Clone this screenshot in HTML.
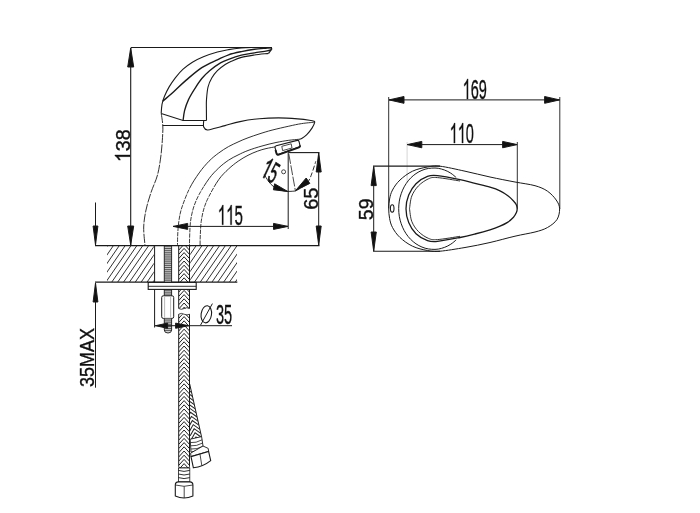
<!DOCTYPE html>
<html><head><meta charset="utf-8"><title>Faucet dimensions</title>
<style>
html,body{margin:0;padding:0;background:#fff;}
body{width:700px;height:513px;overflow:hidden;font-family:"Liberation Sans",sans-serif;}
svg{display:block;filter:grayscale(1);}
svg path, svg line, svg polygon, svg rect, svg ellipse, svg circle{stroke:#1a1a1a;}
svg path{fill:none;}
svg text{font-family:"Liberation Sans",sans-serif;fill:#111;stroke:#111;stroke-width:0.35px;}
</style></head><body>
<svg width="700" height="513" viewBox="0 0 700 513">
<defs>
<clipPath id="hL"><rect x="107" y="246" width="46.8" height="36"/></clipPath>
<clipPath id="hR"><rect x="190.2" y="246" width="46.8" height="36"/></clipPath>
<pattern id="thr" width="8" height="2" patternUnits="userSpaceOnUse"><rect width="8" height="2" style="fill:#c4c4c4;stroke:none"/><path d="M0,1 H8" stroke-width="1" style="stroke:#4a4a4a"/></pattern>
<pattern id="braid" width="10.8" height="4.6" patternUnits="userSpaceOnUse" x="178.7" y="246"><rect width="10.8" height="4.6" style="fill:#fff;stroke:none"/><path d="M0,0.00 L5.4,-6.00 L10.8,0.00 M0,4.60 L5.4,-1.40 L10.8,4.60 M0,9.20 L5.4,3.20 L10.8,9.20 M0,13.80 L5.4,7.80 L10.8,13.80" stroke-width="0.9" style="stroke:#333"/></pattern>
<clipPath id="hs1"><rect x="178.7" y="246" width="10.8" height="62.5"/></clipPath>
<clipPath id="hs2"><rect x="178.7" y="314.2" width="10.8" height="153.8"/></clipPath>
<clipPath id="hs3"><polygon points="190,386 201.6,437 190,439.6"/></clipPath>
<clipPath id="up"><rect x="150" y="100" width="200" height="86"/></clipPath>
<clipPath id="lo"><rect x="150" y="186" width="200" height="70"/></clipPath>
</defs>
<rect width="700" height="513" fill="#fff" stroke="none" style="stroke:none"/>
<path d="M130.7,47.5 H272" stroke-width="1.1" />
<path d="M130.7,48 V245" stroke-width="1.1" />
<polygon points="130.7,48.0 133.7,67.0 127.7,67.0" fill="#111" stroke="none"/>
<polygon points="130.7,245.0 127.7,226.0 133.7,226.0" fill="#111" stroke="none"/>
<g transform="translate(122.5,145.8) rotate(-90) skewX(0) scale(0.94,1)" font-size="21" ><path transform="translate(-17.51,7.52) scale(0.01025)" d="M763 0 H583 V-1147 Q518 -1085 412.5 -1023 Q307 -961 223 -930 V-1104 Q374 -1175 487 -1276 Q600 -1377 647 -1472 H763 Z" style="fill:#111;stroke:#111;stroke-width:34.1"/><text x="-5.84" y="7.5" style="stroke-width:0.35">3</text><text x="5.84" y="7.5" style="stroke-width:0.35">8</text></g>
<path d="M161.2,113.6 C161.3,112.0 161.5,107.1 162.0,104.3 C162.5,101.5 163.2,99.4 164.4,96.5 C165.6,93.6 167.2,90.2 169.0,87.1 C170.8,84.0 173.0,80.8 175.3,77.8 C177.7,74.8 180.2,71.8 183.1,69.2 C185.9,66.6 189.0,64.3 192.4,62.2 C195.8,60.1 199.2,58.4 203.4,56.7 C207.6,55.0 213.2,53.2 217.4,52.0 C221.6,50.8 224.6,50.3 228.6,49.6 C232.6,48.9 237.1,48.4 241.4,48.0 C245.7,47.6 249.4,47.6 254.3,47.5 C259.2,47.4 268.2,47.6 271.0,47.6" stroke-width="1.1" />
<path d="M271,47.6 L271.8,49 L268.6,53.4" stroke-width="1.2" />
<path d="M268.6,53.4 C266.2,53.7 258.8,54.3 254.3,55.0 C249.8,55.7 245.1,56.4 241.4,57.4 C237.7,58.4 234.7,59.8 232.0,61.0 C229.3,62.2 227.6,62.9 225.2,64.5 C222.8,66.1 219.6,68.5 217.4,70.7 C215.2,72.9 213.5,75.1 211.9,77.8 C210.3,80.5 208.9,83.5 208.0,87.1 C207.1,90.7 206.8,95.8 206.5,99.6 C206.2,103.4 206.4,106.5 206.4,110.0 C206.4,113.5 206.5,118.8 206.5,120.5" stroke-width="1.1" />
<path d="M206.5,120.5 H183.1 L161.2,113.6" stroke-width="1.1" />
<path d="M162.8,101.2 C164.6,99.6 169.8,95.3 173.7,91.8 C177.6,88.3 181.5,84.1 186.2,80.1 C190.9,76.1 196.6,71.0 201.8,67.6 C207.0,64.2 212.9,61.9 217.4,59.8 C221.9,57.7 224.6,56.2 228.6,54.8 C232.6,53.4 237.1,52.5 241.4,51.6 C245.7,50.7 250.0,49.9 254.3,49.3 C258.6,48.7 264.3,48.3 267.1,48.0 C269.9,47.7 270.4,47.8 271.0,47.7" stroke-width="1.4" />
<path d="M183.1,120.5 C183.3,118.8 183.7,114.0 184.6,110.5 C185.5,107.0 186.8,103.2 188.5,99.6 C190.2,96.0 192.6,92.2 194.8,88.7 C197.0,85.2 199.3,81.5 201.8,78.5 C204.3,75.5 206.5,73.3 209.6,70.7 C212.7,68.1 217.3,64.8 220.5,62.9 C223.7,61.0 225.1,60.6 228.6,59.3 C232.1,58.0 237.1,56.3 241.4,55.2 C245.7,54.1 250.0,53.6 254.3,52.9 C258.6,52.2 264.3,51.4 267.1,50.9 C269.9,50.4 270.6,49.8 271.3,49.6" stroke-width="1.3" />
<path d="M162.5,125.5 H203.7" stroke-width="1.2" />
<path d="M161.3,114.0 C161.6,115.9 162.6,121.6 162.8,125.5 C163.0,129.4 162.8,132.6 162.5,137.5 C162.2,142.4 161.8,148.8 161.0,155.0 C160.2,161.2 159.2,168.8 157.5,175.0 C155.8,181.2 152.9,186.7 151.0,192.5 C149.1,198.3 147.2,204.2 146.0,210.0 C144.8,215.8 143.9,221.1 143.7,227.0 C143.5,232.9 144.8,242.4 145.0,245.5" stroke-width="0.9" stroke-dasharray="9 1.2"/>
<path d="M203.7,120.8 C203.7,121.8 203.1,125.5 203.7,127.0 C204.3,128.5 205.6,129.8 207.5,130.0 C209.4,130.2 212.1,129.0 215.0,128.3 C217.9,127.6 220.8,126.7 225.0,125.6 C229.2,124.5 234.3,122.8 240.0,121.6 C245.7,120.4 252.9,119.3 259.3,118.7 C265.7,118.1 272.2,117.9 278.6,117.9 C285.0,117.9 292.7,118.5 297.8,118.9 C302.9,119.3 306.7,119.8 309.4,120.2 C312.1,120.6 313.1,120.8 314.0,121.2 C314.9,121.6 314.9,121.4 314.6,122.6 C314.3,123.8 313.3,126.1 312.0,128.1 C310.7,130.1 308.5,132.9 306.8,134.6 C305.1,136.3 303.1,137.6 301.7,138.4 C300.3,139.2 299.0,139.3 298.5,139.5" stroke-width="1.1" />
<g clip-path="url(#up)"><path d="M313.8,122.3 C311.8,122.5 305.9,122.9 301.7,123.6 C297.5,124.2 293.7,125.1 288.8,126.2 C283.9,127.3 277.1,128.8 272.1,130.1 C267.1,131.4 263.0,132.7 259.0,134.0 C255.0,135.3 251.5,136.5 248.0,137.8 C244.5,139.1 241.2,140.5 238.0,142.0 C234.8,143.5 231.7,144.8 228.5,146.6 C225.3,148.4 221.9,150.6 218.7,153.0 C215.4,155.4 212.2,157.9 209.0,161.2 C205.8,164.5 202.4,168.3 199.2,172.9 C195.9,177.5 192.4,182.7 189.5,188.5 C186.6,194.3 183.5,202.5 181.7,208.0 C179.9,213.5 179.5,217.1 178.8,221.6 C178.1,226.1 177.9,231.0 177.7,235.0 C177.5,239.0 177.5,243.8 177.5,245.5" stroke-width="0.9" /></g>
<g clip-path="url(#lo)"><path d="M313.8,122.3 C311.8,122.5 305.9,122.9 301.7,123.6 C297.5,124.2 293.7,125.1 288.8,126.2 C283.9,127.3 277.1,128.8 272.1,130.1 C267.1,131.4 263.0,132.7 259.0,134.0 C255.0,135.3 251.5,136.5 248.0,137.8 C244.5,139.1 241.2,140.5 238.0,142.0 C234.8,143.5 231.7,144.8 228.5,146.6 C225.3,148.4 221.9,150.6 218.7,153.0 C215.4,155.4 212.2,157.9 209.0,161.2 C205.8,164.5 202.4,168.3 199.2,172.9 C195.9,177.5 192.4,182.7 189.5,188.5 C186.6,194.3 183.5,202.5 181.7,208.0 C179.9,213.5 179.5,217.1 178.8,221.6 C178.1,226.1 177.9,231.0 177.7,235.0 C177.5,239.0 177.5,243.8 177.5,245.5" stroke-width="0.85" stroke-dasharray="4.5 1"/></g>
<g clip-path="url(#up)"><path d="M298.5,139.3 C296.9,139.5 292.6,139.8 288.8,140.3 C285.1,140.8 280.5,141.6 276.0,142.5 C271.5,143.4 266.7,144.7 262.0,146.0 C257.3,147.3 252.0,149.0 248.0,150.5 C244.0,152.0 241.2,153.4 238.0,155.0 C234.8,156.6 231.7,158.0 228.5,160.2 C225.3,162.4 221.9,164.9 218.7,168.0 C215.4,171.1 212.2,174.3 209.0,178.7 C205.8,183.1 201.8,189.4 199.2,194.3 C196.6,199.2 194.8,203.4 193.4,208.0 C192.0,212.6 191.1,217.1 190.5,221.6 C189.9,226.1 189.9,231.0 189.7,235.0 C189.5,239.0 189.5,243.8 189.5,245.5" stroke-width="0.9" /></g>
<g clip-path="url(#lo)"><path d="M298.5,139.3 C296.9,139.5 292.6,139.8 288.8,140.3 C285.1,140.8 280.5,141.6 276.0,142.5 C271.5,143.4 266.7,144.7 262.0,146.0 C257.3,147.3 252.0,149.0 248.0,150.5 C244.0,152.0 241.2,153.4 238.0,155.0 C234.8,156.6 231.7,158.0 228.5,160.2 C225.3,162.4 221.9,164.9 218.7,168.0 C215.4,171.1 212.2,174.3 209.0,178.7 C205.8,183.1 201.8,189.4 199.2,194.3 C196.6,199.2 194.8,203.4 193.4,208.0 C192.0,212.6 191.1,217.1 190.5,221.6 C189.9,226.1 189.9,231.0 189.7,235.0 C189.5,239.0 189.5,243.8 189.5,245.5" stroke-width="0.85" stroke-dasharray="4.5 1"/></g>
<g clip-path="url(#up)"><path d="M275.5,146.8 C273.9,147.1 269.0,147.9 266.0,148.6 C263.0,149.3 260.7,150.0 257.7,151.1 C254.7,152.2 251.2,153.6 248.0,155.3 C244.8,157.0 241.4,158.9 238.2,161.2 C234.9,163.5 231.8,165.9 228.5,169.0 C225.2,172.1 221.9,175.1 218.7,179.7 C215.4,184.2 211.4,191.6 209.0,196.3 C206.6,201.0 205.4,203.8 204.1,208.0 C202.8,212.2 201.8,217.1 201.2,221.6 C200.6,226.1 200.5,231.0 200.3,235.0 C200.1,239.0 200.1,243.8 200.1,245.5" stroke-width="0.9" /></g>
<g clip-path="url(#lo)"><path d="M275.5,146.8 C273.9,147.1 269.0,147.9 266.0,148.6 C263.0,149.3 260.7,150.0 257.7,151.1 C254.7,152.2 251.2,153.6 248.0,155.3 C244.8,157.0 241.4,158.9 238.2,161.2 C234.9,163.5 231.8,165.9 228.5,169.0 C225.2,172.1 221.9,175.1 218.7,179.7 C215.4,184.2 211.4,191.6 209.0,196.3 C206.6,201.0 205.4,203.8 204.1,208.0 C202.8,212.2 201.8,217.1 201.2,221.6 C200.6,226.1 200.5,231.0 200.3,235.0 C200.1,239.0 200.1,243.8 200.1,245.5" stroke-width="0.85" stroke-dasharray="4.5 1"/></g>
<path d="M276.2,145.8 L297.2,140.4 Q298.6,140.1 299,141.4 L299.9,145 Q300.2,146.4 298.9,146.9 L278.6,154.2 Q277,154.7 276.6,153.2 L275,147.6 Q274.7,146.2 276.2,145.8 Z" style="fill:#fff" stroke-width="1.1"/>
<path d="M275.5,150 L276.5,153.4 Q277,155.2 278.8,154.6 L299,147.3 Q300.4,146.7 300.1,145.4" stroke-width="1.9" />
<polygon points="281.8,146.3 291.2,143.8 292,148 282.6,150.6" fill="none" stroke-width="0.8"/>
<path d="M288.2,152.6 H319.5" stroke-width="1.1" />
<path d="M288.2,152.6 V229" stroke-width="1.0" />
<path d="M318.7,152.6 V245.5" stroke-width="1.0" />
<polygon points="318.7,153.0 321.2,172.0 316.2,172.0" fill="#111" stroke="none"/>
<polygon points="318.7,245.0 316.2,226.0 321.2,226.0" fill="#111" stroke="none"/>
<g transform="translate(310.5,198.7) rotate(-90) skewX(0) scale(0.95,1)" font-size="21" ><text text-anchor="middle" y="7.5" style="stroke-width:0.35">65</text></g>
<path d="M173,226.4 H288" stroke-width="1.0" />
<polygon points="173.2,226.4 187.7,223.4 187.7,229.4" fill="#111" stroke="none"/>
<polygon points="288.0,226.4 273.5,229.4 273.5,223.4" fill="#111" stroke="none"/>
<g transform="translate(230.3,215.0) rotate(0) skewX(0) scale(0.55,1)" font-size="27.5" ><path transform="translate(-22.94,9.84) scale(0.01343)" d="M763 0 H583 V-1147 Q518 -1085 412.5 -1023 Q307 -961 223 -930 V-1104 Q374 -1175 487 -1276 Q600 -1377 647 -1472 H763 Z" style="fill:#111;stroke:#111;stroke-width:26.1"/><path transform="translate(-7.65,9.84) scale(0.01343)" d="M763 0 H583 V-1147 Q518 -1085 412.5 -1023 Q307 -961 223 -930 V-1104 Q374 -1175 487 -1276 Q600 -1377 647 -1472 H763 Z" style="fill:#111;stroke:#111;stroke-width:26.1"/><text x="7.65" y="9.8" style="stroke-width:0.35">5</text></g>
<path d="M288.8,154 L295.4,190.8" stroke-width="0.8" stroke-dasharray="10 1.5"/>
<path d="M264.2,174.5 C264.9,175.6 266.9,179.2 268.5,181.3 C270.1,183.4 271.9,185.5 274.0,187.0 C276.1,188.5 278.7,189.6 281.0,190.3 C283.3,191.0 285.6,191.3 288.0,191.4 C290.4,191.5 294.2,191.1 295.4,191.0" stroke-width="0.9" />
<path d="M295.4,191.0 C296.7,190.2 300.8,188.2 303.0,186.5 C305.2,184.8 307.3,182.8 308.8,180.6 C310.3,178.3 310.8,176.2 312.0,173.0 C313.2,169.8 315.2,163.2 315.8,161.3" stroke-width="0.9" stroke-dasharray="5 2"/>
<polygon points="287.6,191.4 273.4,189.8 274.6,183.8" fill="#111" stroke="none"/>
<polygon points="295.6,190.6 306.2,178 309.8,183.4" fill="#111" stroke="none"/>
<circle cx="283.6" cy="171.8" r="2" fill="none" stroke-width="0.8"/>
<g transform="translate(270.8,170.2) rotate(33) skewX(8) scale(0.5,1)" font-size="29" ><path transform="translate(-16.12,10.38) scale(0.01416)" d="M763 0 H583 V-1147 Q518 -1085 412.5 -1023 Q307 -961 223 -930 V-1104 Q374 -1175 487 -1276 Q600 -1377 647 -1472 H763 Z" style="fill:#111;stroke:#111;stroke-width:42.4"/><text x="0.00" y="10.4" style="stroke-width:0.6">5</text></g>
<path d="M95,245.7 H319.5" stroke-width="1.2" />
<path d="M95,282.1 H237.3" stroke-width="1.2" />
<g clip-path="url(#hL)" stroke-width="0.9">
<line x1="101.6" y1="245.6" x2="76.4" y2="282.2"/>
<line x1="107.5" y1="245.6" x2="82.3" y2="282.2"/>
<line x1="113.4" y1="245.6" x2="88.2" y2="282.2"/>
<line x1="119.3" y1="245.6" x2="94.1" y2="282.2"/>
<line x1="125.2" y1="245.6" x2="100.0" y2="282.2"/>
<line x1="131.0" y1="245.6" x2="105.8" y2="282.2"/>
<line x1="136.9" y1="245.6" x2="111.7" y2="282.2"/>
<line x1="142.8" y1="245.6" x2="117.6" y2="282.2"/>
<line x1="148.7" y1="245.6" x2="123.5" y2="282.2"/>
<line x1="154.6" y1="245.6" x2="129.4" y2="282.2"/>
<line x1="160.4" y1="245.6" x2="135.2" y2="282.2"/>
<line x1="166.3" y1="245.6" x2="141.1" y2="282.2"/>
<line x1="172.2" y1="245.6" x2="147.0" y2="282.2"/>
<line x1="178.1" y1="245.6" x2="152.9" y2="282.2"/>
<line x1="184.0" y1="245.6" x2="158.8" y2="282.2"/>
<line x1="189.8" y1="245.6" x2="164.6" y2="282.2"/>
</g>
<g clip-path="url(#hR)" stroke-width="0.9">
<line x1="184.5" y1="245.6" x2="159.3" y2="282.2"/>
<line x1="190.4" y1="245.6" x2="165.2" y2="282.2"/>
<line x1="196.2" y1="245.6" x2="171.0" y2="282.2"/>
<line x1="202.0" y1="245.6" x2="176.8" y2="282.2"/>
<line x1="207.9" y1="245.6" x2="182.7" y2="282.2"/>
<line x1="213.7" y1="245.6" x2="188.5" y2="282.2"/>
<line x1="219.6" y1="245.6" x2="194.4" y2="282.2"/>
<line x1="225.4" y1="245.6" x2="200.2" y2="282.2"/>
<line x1="231.2" y1="245.6" x2="206.0" y2="282.2"/>
<line x1="237.1" y1="245.6" x2="211.9" y2="282.2"/>
<line x1="242.9" y1="245.6" x2="217.7" y2="282.2"/>
<line x1="248.8" y1="245.6" x2="223.6" y2="282.2"/>
<line x1="254.6" y1="245.6" x2="229.4" y2="282.2"/>
<line x1="260.4" y1="245.6" x2="235.2" y2="282.2"/>
<line x1="266.3" y1="245.6" x2="241.1" y2="282.2"/>
<line x1="272.1" y1="245.6" x2="246.9" y2="282.2"/>
</g>
<path d="M154.6,245.6 V327.5" stroke-width="1.0" />
<path d="M95.5,202.5 V244" stroke-width="1.0" />
<polygon points="95.5,245.0 93.1,226.0 97.9,226.0" fill="#111" stroke="none"/>
<path d="M95.5,284 V387.7" stroke-width="1.0" />
<polygon points="95.5,283.0 97.9,302.0 93.1,302.0" fill="#111" stroke="none"/>
<g transform="translate(87.3,357.5) rotate(-90) skewX(0) scale(0.92,1)" font-size="19.5" ><text text-anchor="middle" y="7.0" style="stroke-width:0.35">35MAX</text></g>
<rect x="164.3" y="246" width="7.3" height="50" style="fill:#cfcfcf;stroke:none"/>
<path d="M164.3,246.60 H171.6 M164.3,248.50 H171.6 M164.3,250.40 H171.6 M164.3,252.30 H171.6 M164.3,254.20 H171.6 M164.3,256.10 H171.6 M164.3,258.00 H171.6 M164.3,259.90 H171.6 M164.3,261.80 H171.6 M164.3,263.70 H171.6 M164.3,265.60 H171.6 M164.3,267.50 H171.6 M164.3,269.40 H171.6 M164.3,271.30 H171.6 M164.3,273.20 H171.6 M164.3,275.10 H171.6 M164.3,277.00 H171.6 M164.3,278.90 H171.6 M164.3,280.80 H171.6 M164.3,282.70 H171.6 M164.3,284.60 H171.6 M164.3,286.50 H171.6 M164.3,288.40 H171.6 M164.3,290.30 H171.6 M164.3,292.20 H171.6 M164.3,294.10 H171.6 M164.3,296.00 H171.6 " stroke-width="0.9" style="stroke:#4a4a4a"/>
<path d="M164.3,246 V296 M171.6,246 V296" stroke-width="0.9" />
<rect x="161.7" y="295.8" width="12" height="22.6" rx="1.6" style="fill:#fff" stroke-width="1"/>
<path d="M164.6,297 V317.5 M170.6,297 V317.5" stroke-width="0.6" style="stroke:#888"/>
<path d="M164.3,318.4 V330 Q164.3,333 168,333 Q171.6,333 171.6,330 V318.4 Z" style="fill:#cfcfcf;stroke:none"/>
<path d="M164.3,319.00 H171.6 M164.3,320.90 H171.6 M164.3,322.80 H171.6 M164.3,324.70 H171.6 M164.3,326.60 H171.6 M164.3,328.50 H171.6 M164.3,330.40 H171.6 " stroke-width="0.9" style="stroke:#4a4a4a"/>
<path d="M164.3,318.4 V330 Q164.3,333 168,333 Q171.6,333 171.6,330 V318.4" stroke-width="0.9" />
<g clip-path="url(#hs1)"><path d="M178.7,241.80 L184.1,235.80 L189.5,241.80 M178.7,246.00 L184.1,240.00 L189.5,246.00 M178.7,250.20 L184.1,244.20 L189.5,250.20 M178.7,254.40 L184.1,248.40 L189.5,254.40 M178.7,258.60 L184.1,252.60 L189.5,258.60 M178.7,262.80 L184.1,256.80 L189.5,262.80 M178.7,267.00 L184.1,261.00 L189.5,267.00 M178.7,271.20 L184.1,265.20 L189.5,271.20 M178.7,275.40 L184.1,269.40 L189.5,275.40 M178.7,279.60 L184.1,273.60 L189.5,279.60 M178.7,283.80 L184.1,277.80 L189.5,283.80 M178.7,288.00 L184.1,282.00 L189.5,288.00 M178.7,292.20 L184.1,286.20 L189.5,292.20 M178.7,296.40 L184.1,290.40 L189.5,296.40 M178.7,300.60 L184.1,294.60 L189.5,300.60 M178.7,304.80 L184.1,298.80 L189.5,304.80 M178.7,309.00 L184.1,303.00 L189.5,309.00 M178.7,313.20 L184.1,307.20 L189.5,313.20 M178.7,317.40 L184.1,311.40 L189.5,317.40 " stroke-width="1.0" style="stroke:#222"/></g>
<g clip-path="url(#hs2)"><path d="M178.7,310.00 L184.1,304.00 L189.5,310.00 M178.7,314.20 L184.1,308.20 L189.5,314.20 M178.7,318.40 L184.1,312.40 L189.5,318.40 M178.7,322.60 L184.1,316.60 L189.5,322.60 M178.7,326.80 L184.1,320.80 L189.5,326.80 M178.7,331.00 L184.1,325.00 L189.5,331.00 M178.7,335.20 L184.1,329.20 L189.5,335.20 M178.7,339.40 L184.1,333.40 L189.5,339.40 M178.7,343.60 L184.1,337.60 L189.5,343.60 M178.7,347.80 L184.1,341.80 L189.5,347.80 M178.7,352.00 L184.1,346.00 L189.5,352.00 M178.7,356.20 L184.1,350.20 L189.5,356.20 M178.7,360.40 L184.1,354.40 L189.5,360.40 M178.7,364.60 L184.1,358.60 L189.5,364.60 M178.7,368.80 L184.1,362.80 L189.5,368.80 M178.7,373.00 L184.1,367.00 L189.5,373.00 M178.7,377.20 L184.1,371.20 L189.5,377.20 M178.7,381.40 L184.1,375.40 L189.5,381.40 M178.7,385.60 L184.1,379.60 L189.5,385.60 M178.7,389.80 L184.1,383.80 L189.5,389.80 M178.7,394.00 L184.1,388.00 L189.5,394.00 M178.7,398.20 L184.1,392.20 L189.5,398.20 M178.7,402.40 L184.1,396.40 L189.5,402.40 M178.7,406.60 L184.1,400.60 L189.5,406.60 M178.7,410.80 L184.1,404.80 L189.5,410.80 M178.7,415.00 L184.1,409.00 L189.5,415.00 M178.7,419.20 L184.1,413.20 L189.5,419.20 M178.7,423.40 L184.1,417.40 L189.5,423.40 M178.7,427.60 L184.1,421.60 L189.5,427.60 M178.7,431.80 L184.1,425.80 L189.5,431.80 M178.7,436.00 L184.1,430.00 L189.5,436.00 M178.7,440.20 L184.1,434.20 L189.5,440.20 M178.7,444.40 L184.1,438.40 L189.5,444.40 M178.7,448.60 L184.1,442.60 L189.5,448.60 M178.7,452.80 L184.1,446.80 L189.5,452.80 M178.7,457.00 L184.1,451.00 L189.5,457.00 M178.7,461.20 L184.1,455.20 L189.5,461.20 M178.7,465.40 L184.1,459.40 L189.5,465.40 M178.7,469.60 L184.1,463.60 L189.5,469.60 M178.7,473.80 L184.1,467.80 L189.5,473.80 M178.7,478.00 L184.1,472.00 L189.5,478.00 " stroke-width="1.0" style="stroke:#222"/></g>
<path d="M178.7,246 V308.5 M189.5,246 V308.5" stroke-width="1.0" />
<path d="M178.7,314.2 V466.5 Q178.7,468 180.2,468 H188 Q189.5,468 189.5,466.5 V314.2" stroke-width="1.0" />
<path d="M178.7,308.5 q2.7,1.6 5.4,0 q2.7,-1.6 5.4,0 M178.7,314.2 q2.7,-1.6 5.4,0 q2.7,1.6 5.4,0" stroke-width="0.8" />
<rect x="148.2" y="282.4" width="48" height="7" style="fill:#fff" stroke-width="1.1"/>
<path d="M148.2,286.3 H196.2" stroke-width="0.9" />
<g clip-path="url(#hs3)"><g transform="rotate(-12.6 189.7 384)"><path d="M178.9,375.80 L184.3,369.80 L189.7,375.80 M178.9,380.00 L184.3,374.00 L189.7,380.00 M178.9,384.20 L184.3,378.20 L189.7,384.20 M178.9,388.40 L184.3,382.40 L189.7,388.40 M178.9,392.60 L184.3,386.60 L189.7,392.60 M178.9,396.80 L184.3,390.80 L189.7,396.80 M178.9,401.00 L184.3,395.00 L189.7,401.00 M178.9,405.20 L184.3,399.20 L189.7,405.20 M178.9,409.40 L184.3,403.40 L189.7,409.40 M178.9,413.60 L184.3,407.60 L189.7,413.60 M178.9,417.80 L184.3,411.80 L189.7,417.80 M178.9,422.00 L184.3,416.00 L189.7,422.00 M178.9,426.20 L184.3,420.20 L189.7,426.20 M178.9,430.40 L184.3,424.40 L189.7,430.40 M178.9,434.60 L184.3,428.60 L189.7,434.60 M178.9,438.80 L184.3,432.80 L189.7,438.80 M178.9,443.00 L184.3,437.00 L189.7,443.00 M178.9,447.20 L184.3,441.20 L189.7,447.20 M178.9,451.40 L184.3,445.40 L189.7,451.40 " stroke-width="1.0" style="stroke:#222"/></g></g>
<path d="M189.7,384 L201.6,437" stroke-width="1.0" />
<path d="M190.2,439.2 L201.6,436.6 L203.4,448.6 L191,452.2 Z" style="fill:#fff" stroke-width="0.9"/>
<path d="M190.4,442.6 Q196,443.2 202.1,439.8 M190.7,445.8 Q196.5,446.4 202.6,443 M190.9,449 Q197,449.6 203,446.2" stroke-width="0.8" />
<path d="M203,446 L208.2,448.4 L208.6,451.4 L191,456.6 L190.6,453.2 Z" style="fill:#fff" stroke-width="0.9"/>
<path d="M191,456.6 L208.6,451.4 L210.7,460.6 Q203,466.8 193.4,467.8 Z" style="fill:#fff" stroke-width="1.1"/>
<path d="M200,454.2 L201.8,465.6" stroke-width="0.8" />
<rect x="178.4" y="468" width="11.4" height="14" style="fill:#fff" stroke-width="0.8"/>
<path d="M178.4,470.4 Q184,472.4 189.8,470.4 M178.4,474 Q184,476 189.8,474 M178.4,477.6 Q184,479.6 189.8,477.6" stroke-width="0.9" />
<path d="M175.3,485 Q175.3,481.9 178.4,481.9 H189.8 Q192.9,481.9 192.9,485 V496 Q184,500 175.3,496 Z" style="fill:#fff" stroke-width="1.1"/>
<path d="M175.3,485 Q184,487.6 192.9,485 M184.2,486.4 V498" stroke-width="0.8" />
<path d="M155,325.7 H232" stroke-width="1.0" />
<polygon points="155.6,325.7 167.6,323.1 167.6,328.3" fill="#111" stroke="none"/>
<polygon points="188.6,325.7 175.6,328.3 175.6,323.1" fill="#111" stroke="none"/>
<ellipse cx="206.3" cy="314.3" rx="5.2" ry="8.6" fill="none" stroke-width="1.1" transform="rotate(8 206.3 314.3)"/>
<path d="M200.6,325 L212.4,303.6" stroke-width="1.0" />
<g transform="translate(224.0,314.4) rotate(0) skewX(0) scale(0.52,1)" font-size="28" ><text text-anchor="middle" y="10.0" style="stroke-width:0.35">35</text></g>
<path d="M388.7,97 V208.7" stroke-width="0.9" />
<path d="M559.8,97 V209" stroke-width="0.9" />
<path d="M389,99.9 H559.5" stroke-width="1.0" />
<polygon points="389.0,99.9 404.0,96.5 404.0,103.3" fill="#111" stroke="none"/>
<polygon points="559.6,99.9 544.6,103.3 544.6,96.5" fill="#111" stroke="none"/>
<g transform="translate(474.8,89.0) rotate(0) skewX(0) scale(0.52,1)" font-size="28" ><path transform="translate(-23.35,10.02) scale(0.01367)" d="M763 0 H583 V-1147 Q518 -1085 412.5 -1023 Q307 -961 223 -930 V-1104 Q374 -1175 487 -1276 Q600 -1377 647 -1472 H763 Z" style="fill:#111;stroke:#111;stroke-width:25.6"/><text x="-7.78" y="10.0" style="stroke-width:0.35">6</text><text x="7.78" y="10.0" style="stroke-width:0.35">9</text></g>
<path d="M407.1,142 V182" stroke-width="0.5" style="stroke:#aaa"/>
<path d="M517.3,142 V208.7" stroke-width="0.9" />
<path d="M407.3,144.6 H517" stroke-width="1.0" />
<polygon points="407.3,144.6 421.8,141.4 421.8,147.8" fill="#111" stroke="none"/>
<polygon points="517.1,144.6 502.6,147.8 502.6,141.4" fill="#111" stroke="none"/>
<g transform="translate(461.8,133.1) rotate(0) skewX(0) scale(0.52,1)" font-size="28" ><path transform="translate(-23.35,10.02) scale(0.01367)" d="M763 0 H583 V-1147 Q518 -1085 412.5 -1023 Q307 -961 223 -930 V-1104 Q374 -1175 487 -1276 Q600 -1377 647 -1472 H763 Z" style="fill:#111;stroke:#111;stroke-width:25.6"/><path transform="translate(-7.78,10.02) scale(0.01367)" d="M763 0 H583 V-1147 Q518 -1085 412.5 -1023 Q307 -961 223 -930 V-1104 Q374 -1175 487 -1276 Q600 -1377 647 -1472 H763 Z" style="fill:#111;stroke:#111;stroke-width:25.6"/><text x="7.78" y="10.0" style="stroke-width:0.35">0</text></g>
<path d="M373,166.2 H440" stroke-width="1.3" />
<path d="M373,251.2 H440" stroke-width="1.1" />
<path d="M373.7,167 V251" stroke-width="1.0" />
<polygon points="373.7,166.6 376.3,185.6 371.1,185.6" fill="#111" stroke="none"/>
<polygon points="373.7,251.0 371.1,232.0 376.3,232.0" fill="#111" stroke="none"/>
<g transform="translate(365.6,209.3) rotate(-90) skewX(0) scale(0.93,1)" font-size="21" ><text text-anchor="middle" y="7.5" style="stroke-width:0.35">59</text></g>
<path d="M388.7,208.7 C388.7,205.4 389.0,202.1 389.6,199.0 C390.2,195.9 390.8,193.2 392.5,190.0 C394.2,186.8 396.7,183.1 400.0,180.0 C403.3,176.9 407.9,173.4 412.5,171.2 C417.1,169.0 422.9,167.8 427.5,167.0 C432.1,166.2 433.8,165.5 440.0,166.2 C446.2,166.9 456.7,169.4 465.0,171.2 C473.3,173.0 481.7,175.2 490.0,177.0 C498.3,178.8 507.5,180.6 515.0,182.0 C522.5,183.4 529.6,184.2 535.0,185.7 C540.4,187.2 544.0,188.8 547.5,191.2 C551.0,193.6 554.2,197.1 556.2,200.0 C558.2,202.9 559.5,205.4 559.6,208.7 C559.7,211.9 559.0,216.4 557.0,219.5 C555.0,222.6 551.2,225.4 547.5,227.5 C543.8,229.6 540.4,230.6 535.0,232.0 C529.6,233.4 522.5,234.4 515.0,236.2 C507.5,237.9 498.3,240.6 490.0,242.5 C481.7,244.4 473.3,246.1 465.0,247.5 C456.7,248.9 446.2,250.7 440.0,251.2 C433.8,251.7 432.1,251.3 427.5,250.5 C422.9,249.7 417.1,248.4 412.5,246.2 C407.9,244.0 403.3,240.6 400.0,237.5 C396.7,234.4 394.2,230.7 392.5,227.5 C390.8,224.3 390.2,221.6 389.6,218.5 C389.0,215.4 388.7,211.9 388.7,208.7Z" stroke-width="1.0" />
<path d="M456.2,239.9 C455.3,240.6 452.7,243.0 450.8,244.2 C448.8,245.5 446.8,246.5 444.7,247.3 C442.6,248.1 440.4,248.7 438.3,249.1 C436.1,249.4 433.9,249.5 431.7,249.3 C429.5,249.2 427.3,248.8 425.1,248.2 C423.0,247.5 420.9,246.7 418.9,245.6 C416.9,244.5 415.0,243.2 413.2,241.7 C411.4,240.2 409.7,238.5 408.2,236.6 C406.7,234.8 405.4,232.7 404.2,230.6 C403.0,228.4 402.0,226.1 401.2,223.7 C400.4,221.4 399.7,218.9 399.3,216.3 C398.9,213.8 398.7,211.2 398.7,208.7 C398.7,206.2 398.9,203.6 399.3,201.1 C399.7,198.5 400.4,196.0 401.2,193.7 C402.0,191.3 403.0,189.0 404.2,186.8 C405.4,184.7 406.7,182.6 408.2,180.8 C409.7,178.9 411.4,177.2 413.2,175.7 C415.0,174.2 416.9,172.9 418.9,171.8 C420.9,170.7 423.0,169.9 425.1,169.2 C427.3,168.6 429.5,168.2 431.7,168.1 C433.9,167.9 436.1,168.0 438.3,168.3 C440.4,168.7 442.6,169.3 444.7,170.1 C446.8,170.9 448.8,171.9 450.8,173.2 C452.7,174.4 455.3,176.8 456.2,177.5" stroke-width="1.0" />
<path d="M406.0,208.7 C406.0,204.1 407.0,199.2 408.7,195.0 C410.4,190.8 412.9,186.8 416.0,183.7 C419.1,180.6 423.9,177.7 427.5,176.4 C431.1,175.1 432.1,175.1 437.5,175.7 C442.9,176.2 453.8,178.4 460.0,179.7 C466.2,181.0 470.0,182.1 475.0,183.3 C480.0,184.6 485.8,185.9 490.0,187.2 C494.2,188.4 497.1,189.4 500.0,190.8 C502.9,192.2 505.2,193.7 507.5,195.4 C509.8,197.1 512.0,199.4 513.5,201.0 C515.0,202.6 515.8,203.7 516.4,205.0 C517.0,206.3 517.2,207.4 517.2,208.7 C517.2,210.0 517.0,211.2 516.4,212.6 C515.8,214.0 515.0,215.6 513.5,217.2 C512.0,218.8 509.8,220.9 507.5,222.4 C505.2,223.9 502.9,225.0 500.0,226.2 C497.1,227.4 494.2,228.5 490.0,229.8 C485.8,231.1 480.0,232.7 475.0,234.0 C470.0,235.3 466.2,236.3 460.0,237.5 C453.8,238.7 442.9,240.9 437.5,241.4 C432.1,241.9 431.1,241.9 427.5,240.6 C423.9,239.3 419.1,236.7 416.0,233.7 C412.9,230.7 410.4,226.7 408.7,222.5 C407.0,218.3 406.0,213.3 406.0,208.7Z" stroke-width="1.3" />
<path d="M409.5,208.7 C409.9,206.6 410.3,199.8 411.8,196.0 C413.3,192.2 415.7,188.7 418.5,185.8 C421.3,182.9 425.3,180.2 428.5,178.8 C431.7,177.4 432.2,177.2 437.5,177.6 C442.8,178.0 456.2,180.4 460.0,181.0" stroke-width="0.9" />
<path d="M409.5,208.7 C409.9,210.8 410.3,217.7 411.8,221.5 C413.3,225.3 415.7,228.8 418.5,231.6 C421.3,234.4 425.3,237.1 428.5,238.4 C431.7,239.7 432.2,239.9 437.5,239.6 C442.8,239.2 456.2,236.9 460.0,236.3" stroke-width="0.9" />
<ellipse cx="392.2" cy="208.4" rx="1.8" ry="3.7" fill="none" stroke-width="1.1"/>
</svg>
</body></html>
